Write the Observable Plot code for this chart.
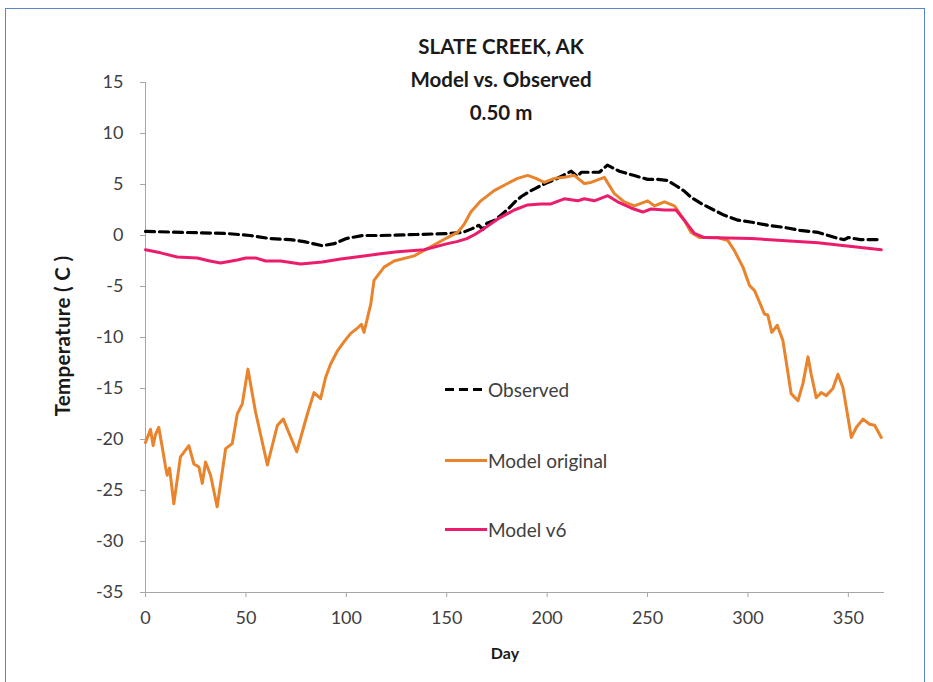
<!DOCTYPE html>
<html>
<head>
<meta charset="utf-8">
<script src="https://cdn.jsdelivr.net/npm/d3@7"></script>
<script src="https://cdn.jsdelivr.net/npm/@observablehq/plot@0.6"></script>
<style>
  html, body { margin: 0; padding: 0; background: #fff; }
  #wrap { position: relative; width: 933px; height: 682px; overflow: hidden; font-family: Lato, "Liberation Sans", sans-serif; }
  #border { position: absolute; left: 5px; top: 8px; width: 920px; height: 700px; border: 1.5px solid #5B86C5; box-sizing: border-box; }
  #title { position: absolute; left: 0; width: 1002px; top: 30px; text-align: center; font-weight: bold; font-size: 20.5px; line-height: 33px; color: #1a1a1a; }
  .axlabel { position: absolute; font-weight: bold; color: #1a1a1a; }
  #ylab { left: 62px; top: 336px; font-size: 20.5px; letter-spacing: 0.3px; transform: translate(-50%, -50%) rotate(-90deg); white-space: nowrap; }
  #xlab { left: 505px; top: 652px; font-size: 16px; transform: translate(-50%, -50%); }
  .leg { position: absolute; left: 445px; display: flex; align-items: center; font-size: 19px; color: #404040; transform: translateY(-50%); }
  .leg svg { display: block; margin-right: 1px; }
  #chart { position: absolute; left: 0; top: 0; }
</style>
</head>
<body>
<div id="wrap">
  <div id="border"></div>
  <div id="chart"></div>
  <div id="title">SLATE CREEK, AK<br>Model vs. Observed<br>0.50 m</div>
  <div class="axlabel" id="ylab">Temperature ( C )</div>
  <div class="axlabel" id="xlab">Day</div>
  <div id="legend"></div>
</div>
<script>
// ---- Data ----
const seriesNames = ["Observed", "Model original", "Model v6"];
const seriesColors = ["#000000", "#E9842C", "#EC1C6C"];

const obsDay  = [0, 20, 40, 52, 62, 72, 79, 88, 94, 100, 108, 117, 135, 152, 158, 163, 166, 168, 170, 174, 177, 180, 184, 187, 191, 194, 199, 204, 208, 212, 215, 217, 221, 226, 230, 236, 243, 250, 255, 260, 264, 268, 272, 277, 283, 288, 295, 302, 310, 318, 326, 335, 340, 345, 348, 350, 356, 366];
const obsTemp = [0.4, 0.3, 0.2, 0.0, -0.3, -0.4, -0.6, -1.0, -0.8, -0.3, 0.0, 0.0, 0.1, 0.2, 0.3, 0.7, 1.0, 0.6, 1.2, 1.5, 2.0, 2.5, 3.3, 3.8, 4.3, 4.6, 5.1, 5.5, 5.9, 6.3, 5.8, 6.2, 6.2, 6.2, 6.9, 6.3, 5.9, 5.5, 5.5, 5.4, 4.9, 4.4, 3.7, 3.1, 2.5, 2.0, 1.5, 1.3, 1.0, 0.8, 0.5, 0.3, 0.0, -0.3, -0.4, -0.2, -0.4, -0.4];

const origDay  = [0, 2.5, 3.8, 5, 6.6, 8.3, 10, 10.8, 12, 14.1, 17.4, 21.6, 24.1, 26.6, 28.3, 29.9, 32.4, 35.7, 39.9, 43.2, 45.7, 48.2, 51, 54.8, 60.7, 65.7, 68.6, 75.3, 80.6, 83.9, 87.2, 89.7, 92.2, 95.6, 98.9, 102.2, 106, 107.5, 108.8, 112.2, 113.8, 118.8, 123.8, 133.8, 142, 150.4, 155.4, 158.7, 162, 167, 173.6, 180.3, 185.3, 190.3, 194.4, 198.6, 203.6, 208.5, 213.5, 218.5, 221.8, 228.5, 233.5, 238.4, 243.4, 250.1, 253.4, 258.4, 263.4, 268.3, 271.7, 275.8, 285, 290, 293.3, 297.5, 300.8, 303.3, 305.7, 308.2, 309.9, 311.9, 314.6, 317.4, 319, 321.5, 324.9, 327.4, 329.9, 331.5, 334, 336.5, 339, 342.3, 344.8, 347.3, 351.5, 354, 357.3, 360.6, 363.1, 366.4];
const origTemp = [-20.3, -19.0, -20.6, -19.5, -18.8, -20.7, -22.7, -23.5, -22.8, -26.3, -21.7, -20.6, -22.4, -22.7, -24.3, -22.2, -23.5, -26.6, -20.9, -20.4, -17.5, -16.5, -13.1, -17.3, -22.5, -18.6, -18.0, -21.2, -17.5, -15.4, -16.0, -13.9, -12.6, -11.3, -10.4, -9.6, -9.0, -8.7, -9.5, -6.7, -4.4, -3.1, -2.5, -2.0, -1.1, -0.2, 0.3, 1.1, 2.3, 3.4, 4.4, 5.1, 5.6, 5.9, 5.6, 5.2, 5.6, 5.7, 5.9, 5.1, 5.2, 5.7, 4.1, 3.3, 2.9, 3.4, 2.9, 3.3, 2.9, 1.5, 0.3, -0.2, -0.2, -0.5, -1.5, -3.1, -4.9, -5.4, -6.5, -7.7, -7.8, -9.5, -8.8, -10.3, -12.3, -15.5, -16.2, -14.5, -11.9, -13.6, -15.9, -15.4, -15.7, -15.0, -13.6, -14.9, -19.8, -18.8, -18.0, -18.5, -18.6, -19.8];

const v6Day  = [0, 7.5, 15.8, 25.8, 32, 37.4, 45.7, 50, 54.8, 59.8, 67.3, 77.3, 88, 97.2, 108.8, 117, 125.5, 138.7, 150.4, 155, 160, 164, 168, 175.3, 183.6, 190.3, 196.9, 201.9, 208.5, 215.2, 218.5, 223.5, 230.2, 235.1, 241.8, 247.6, 251.7, 258.4, 264.2, 268.3, 273.3, 278.3, 301.6, 334.8, 366.4];
const v6Temp = [-1.4, -1.7, -2.1, -2.2, -2.5, -2.7, -2.4, -2.2, -2.2, -2.5, -2.5, -2.8, -2.6, -2.3, -2.0, -1.8, -1.6, -1.4, -0.8, -0.6, -0.3, 0.1, 0.6, 1.6, 2.5, 3.0, 3.1, 3.1, 3.6, 3.4, 3.6, 3.4, 3.9, 3.3, 2.7, 2.3, 2.6, 2.5, 2.5, 1.5, 0.2, -0.2, -0.3, -0.7, -1.4];

const xTicks = [0, 50, 100, 150, 200, 250, 300, 350];
const yTicks = [-35, -30, -25, -20, -15, -10, -5, 0, 5, 10, 15];

// ---- Build tables ----
const obs  = obsDay.map((d, i) => ({day: d, temp: obsTemp[i]}));
const orig = origDay.map((d, i) => ({day: d, temp: origTemp[i]}));
const v6   = v6Day.map((d, i) => ({day: d, temp: v6Temp[i]}));

const axisColor = "#A6A6A6";
const chart = Plot.plot({
  width: 933,
  height: 682,
  marginLeft: 145,
  marginRight: 49,
  marginTop: 82,
  marginBottom: 90,
  style: {fontFamily: "Lato, 'Liberation Sans', sans-serif", fontSize: "18px", color: "#404040", background: "transparent", overflow: "visible"},
  x: {domain: [0, 368], label: null},
  y: {domain: [-35, 15], label: null},
  marks: [
    Plot.axisX({ticks: xTicks, tickSize: 5, tickPadding: 14, stroke: axisColor, tickFormat: d => String(d), fill: "#404040"}),
    Plot.axisY({ticks: yTicks, tickSize: 5, tickPadding: 17, stroke: axisColor, tickFormat: d => String(d), fill: "#404040"}),
    Plot.ruleX([0], {stroke: axisColor, strokeWidth: 1}),
    Plot.ruleY([-35], {stroke: axisColor, strokeWidth: 1}),
    Plot.line(obs, {x: "day", y: "temp", stroke: seriesColors[0], strokeWidth: 3.2, strokeDasharray: "9,5"}),
    Plot.line(orig, {x: "day", y: "temp", stroke: seriesColors[1], strokeWidth: 3}),
    Plot.line(v6, {x: "day", y: "temp", stroke: seriesColors[2], strokeWidth: 3})
  ]
});
document.getElementById("chart").appendChild(chart);

// ---- Legend ----
const legendTops = [389, 460, 529];
const legend = document.getElementById("legend");
seriesNames.forEach((name, i) => {
  const div = document.createElement("div");
  div.className = "leg";
  div.style.top = legendTops[i] + "px";
  const dash = i === 0 ? 'stroke-dasharray="9,5"' : "";
  div.innerHTML = `<svg width="42" height="8"><line x1="0" y1="4" x2="42" y2="4" stroke="${seriesColors[i]}" stroke-width="3.2" ${dash}/></svg><span>${name}</span>`;
  legend.appendChild(div);
});
</script>
</body>
</html>
